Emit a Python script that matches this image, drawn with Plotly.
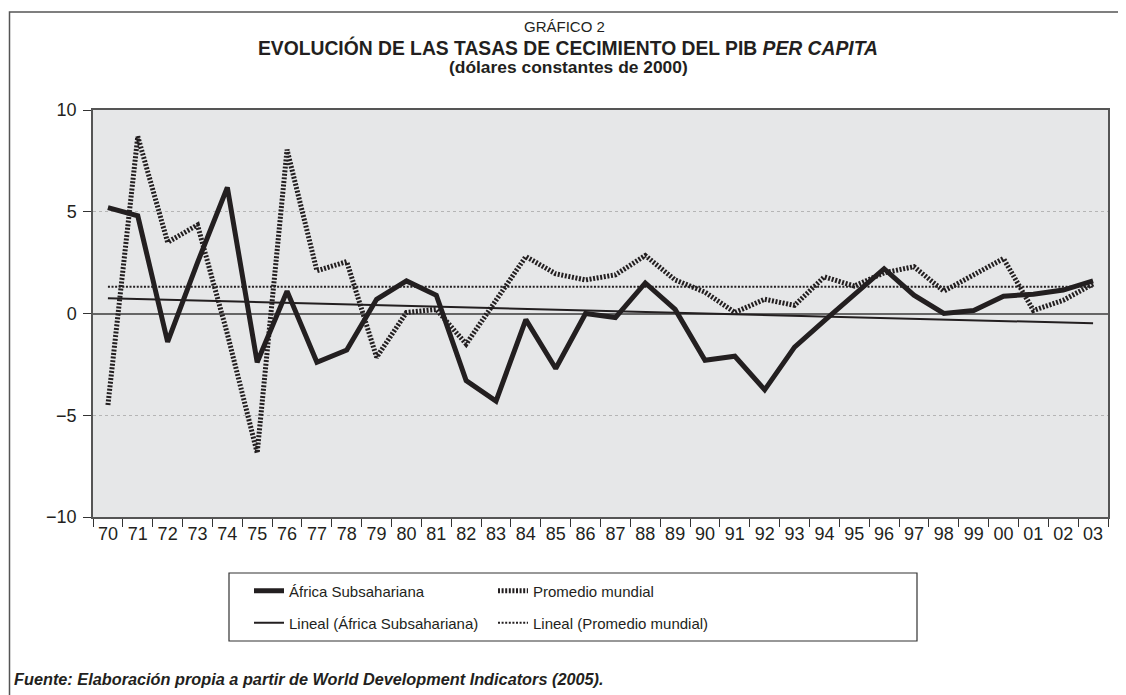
import numpy as np
import plotly.graph_objects as go

years = ["70", "71", "72", "73", "74", "75", "76", "77", "78", "79",
         "80", "81", "82", "83", "84", "85", "86", "87", "88", "89",
         "90", "91", "92", "93", "94", "95", "96", "97", "98", "99",
         "00", "01", "02", "03"]

africa = [5.2, 4.8, -1.4, 2.5, 6.2, -2.4, 1.1, -2.4, -1.8, 0.7,
          1.6, 0.9, -3.3, -4.3, -0.3, -2.7, 0.0, -0.2, 1.5, 0.2,
          -2.3, -2.1, -3.75, -1.65, -0.35, 0.95, 2.2, 0.9, 0.0, 0.15,
          0.85, 0.95, 1.15, 1.6]

mundial = [-4.5, 8.7, 3.5, 4.35, -1.0, -6.85, 8.05, 2.1, 2.55, -2.15,
           0.05, 0.2, -1.5, 0.7, 2.8, 1.95, 1.65, 1.9, 2.85, 1.65,
           1.05, 0.05, 0.7, 0.4, 1.8, 1.35, 2.0, 2.3, 1.1, 1.9,
           2.7, 0.15, 0.65, 1.45]

names = ["África Subsahariana", "Promedio mundial",
         "Lineal (África Subsahariana)", "Lineal (Promedio mundial)"]

title_top = "GRÁFICO 2"
title_main = "<b>EVOLUCIÓN DE LAS TASAS DE CECIMIENTO DEL PIB <i>PER CAPITA</i></b>"
title_sub = "<b>(dólares constantes de 2000)</b>"
source = "<b><i>Fuente: Elaboración propia a partir de World Development Indicators (2005).</i></b>"

y_ticks = [-10, -5, 0, 5, 10]

idx = np.arange(len(years))
fa = np.polyfit(idx, africa, 1)
fm = np.polyfit(idx, mundial, 1)
trend_af = np.polyval(fa, idx)
trend_mu = np.polyval(fm, idx)

INK = "#231f20"
SANS = "Liberation Sans, Arial, Helvetica, sans-serif"

fig = go.Figure()
fig.add_trace(go.Scatter(x=years, y=trend_af, mode="lines", name=names[2],
                         line=dict(color=INK, width=2), legend="legend3"))
fig.add_trace(go.Scatter(x=years, y=trend_mu, mode="lines", name=names[3],
                         line=dict(color=INK, width=2, dash="2px,1.6px"), legend="legend4"))
fig.add_trace(go.Scatter(x=years, y=mundial, mode="lines", name=names[1],
                         line=dict(color=INK, width=5, dash="2px,1.6px"), legend="legend2"))
fig.add_trace(go.Scatter(x=years, y=africa, mode="lines", name=names[0],
                         line=dict(color=INK, width=5), legend="legend"))

# page body has an 8px default margin; figure is shrunk so the screenshot lines up
OFF = 8
W, H = 1126 - OFF, 695 - OFF
L, R, T, B = 85, 18, 102, 178
pw = W - L - R
ph = H - T - B


def px_x(px):
    return (px - OFF - L) / pw


def px_y(py):
    return (H - B - (py - OFF)) / ph


leg_common = dict(font=dict(family=SANS, size=15, color=INK), bgcolor="rgba(0,0,0,0)",
                  borderwidth=0, xanchor="left", yanchor="middle", orientation="v")

fig.update_layout(
    width=W, height=H,
    margin=dict(l=L, r=R, t=T, b=B),
    paper_bgcolor="white",
    plot_bgcolor="#e6e7e8",
    showlegend=True,
    legend=dict(x=px_x(249), y=px_y(591), **leg_common),
    legend2=dict(x=px_x(493), y=px_y(591), **leg_common),
    legend3=dict(x=px_x(249), y=px_y(623), **leg_common),
    legend4=dict(x=px_x(493), y=px_y(623), **leg_common),
    xaxis=dict(type="category", tickson="boundaries", ticks="outside", ticklen=8,
               tickcolor="#333", tickwidth=1, showline=True, linecolor="#555", linewidth=1.5,
               mirror=True, showgrid=False,
               tickfont=dict(family=SANS, size=18, color=INK), range=[-0.5, len(years) - 0.5]),
    yaxis=dict(range=[-10, 10], tickvals=y_ticks, ticks="outside", ticklen=8,
               tickcolor="#333", tickwidth=1, showline=True, linecolor="#555", linewidth=1.5,
               mirror=True, showgrid=True, gridcolor="#b5b5b5", griddash="dot", gridwidth=1,
               zeroline=True, zerolinecolor="#666", zerolinewidth=1.5,
               ticklabelstandoff=3,
               tickfont=dict(family=SANS, size=18, color=INK)),
    shapes=[
        dict(type="rect", xref="paper", yref="paper", x0=px_x(9.5), x1=px_x(1120),
             y0=px_y(720), y1=px_y(12), line=dict(color="#555", width=1.5), layer="below"),
        dict(type="rect", xref="paper", yref="paper", x0=px_x(229), x1=px_x(917),
             y0=px_y(641), y1=px_y(573), line=dict(color="#333", width=1.2), layer="below"),
    ],
    annotations=[
        dict(text=title_top, xref="paper", yref="paper", x=px_x(564), y=px_y(27),
             showarrow=False, font=dict(family=SANS, size=15, color=INK), yanchor="middle"),
        dict(text=title_main, xref="paper", yref="paper", x=px_x(568), y=px_y(47),
             showarrow=False, font=dict(family=SANS, size=19.3, color=INK), yanchor="middle"),
        dict(text=title_sub, xref="paper", yref="paper", x=px_x(568), y=px_y(67),
             showarrow=False, font=dict(family=SANS, size=17.4, color=INK), yanchor="middle"),
        dict(text=source, xref="paper", yref="paper", x=px_x(12), y=px_y(679),
             xanchor="left", yanchor="middle", showarrow=False,
             font=dict(family=SANS, size=16.3, color=INK)),
    ],
)

fig.write_html("out.html")
